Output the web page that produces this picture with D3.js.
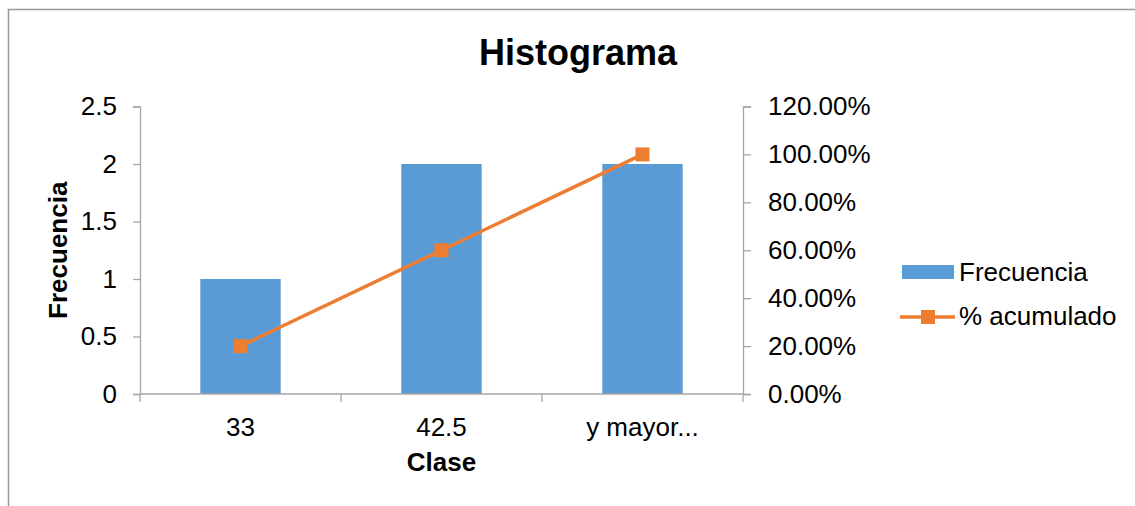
<!DOCTYPE html>
<meta charset="utf-8">
<script src="https://d3js.org/d3.v7.min.js"></script>
<style>
  body { margin: 0; background: #fff; }
  text { font-family: "Liberation Sans", Arial, sans-serif; fill: #000; }
  .axis path, .axis line { stroke: #a6a6a6; stroke-width: 1.3px; }
  .axis text { font-size: 26px; }
</style>
<div id="chart"></div>
<script>
  // data
  var clases = ["33", "42.5", "y mayor..."];
  var frecuencia = [1, 2, 2];
  var acumulado = [0.2, 0.6, 1.0];
  var leftTicks = [0, 0.5, 1, 1.5, 2, 2.5];
  var rightTicks = [0, 0.2, 0.4, 0.6, 0.8, 1.0, 1.2];

  var width = 1135, height = 506;
  var plotLeft = 140, plotRight = 743, plotTop = 106.5, plotBottom = 394;

  var svg = d3.select("#chart").append("svg")
    .attr("width", width)
    .attr("height", height);

  // outer chart border (cut off on the right and bottom)
  svg.append("rect")
    .attr("x", 8.5).attr("y", 9.5)
    .attr("width", 1140).attr("height", 510)
    .attr("fill", "none")
    .attr("stroke", "#999").attr("stroke-width", 1.5);

  var x = d3.scaleBand().domain(clases).range([plotLeft, plotRight]).padding(0);
  var y = d3.scaleLinear().domain([0, 2.5]).range([plotBottom, plotTop]);
  var y2 = d3.scaleLinear().domain([0, 1.2]).range([plotBottom, plotTop]);

  var barW = x.bandwidth() * 0.4;

  svg.selectAll(".bar")
    .data(frecuencia)
    .enter().append("rect")
    .attr("class", "bar")
    .attr("x", function (d, i) { return x(clases[i]) + (x.bandwidth() - barW) / 2; })
    .attr("y", function (d) { return y(d); })
    .attr("width", barW)
    .attr("height", function (d) { return plotBottom - y(d); })
    .attr("fill", "#5B9BD5");

  // left axis
  svg.append("g")
    .attr("class", "axis")
    .attr("transform", "translate(" + plotLeft + ",0)")
    .call(d3.axisLeft(y).tickValues(leftTicks).tickSize(7).tickPadding(16)
      .tickFormat(function (d) { return String(d); }));

  // right axis
  svg.append("g")
    .attr("class", "axis")
    .attr("transform", "translate(" + plotRight + ",0)")
    .call(d3.axisRight(y2).tickValues(rightTicks).tickSize(8).tickPadding(17)
      .tickFormat(d3.format(".2%")));

  // bottom axis: ticks at category boundaries
  var xAxis = svg.append("g")
    .attr("class", "axis")
    .attr("transform", "translate(0," + plotBottom + ")");
  xAxis.append("line")
    .attr("x1", plotLeft).attr("x2", plotRight)
    .attr("y1", 0).attr("y2", 0);
  var bounds = clases.map(function (c) { return x(c); }).concat([plotRight]);
  xAxis.selectAll(".tk")
    .data(bounds)
    .enter().append("line")
    .attr("x1", function (d) { return d; }).attr("x2", function (d) { return d; })
    .attr("y1", 0).attr("y2", 8);
  xAxis.selectAll(".lbl")
    .data(clases)
    .enter().append("text")
    .attr("x", function (d) { return x(d) + x.bandwidth() / 2; })
    .attr("y", 42)
    .attr("text-anchor", "middle")
    .text(function (d) { return d; });

  // cumulative line
  var line = d3.line()
    .x(function (d, i) { return x(clases[i]) + x.bandwidth() / 2; })
    .y(function (d) { return y2(d); });

  svg.append("path")
    .datum(acumulado)
    .attr("d", line)
    .attr("fill", "none")
    .attr("stroke", "#ED7D31")
    .attr("stroke-width", 3.5);

  svg.selectAll(".mk")
    .data(acumulado)
    .enter().append("rect")
    .attr("x", function (d, i) { return x(clases[i]) + x.bandwidth() / 2 - 7; })
    .attr("y", function (d) { return y2(d) - 7; })
    .attr("width", 14).attr("height", 14)
    .attr("fill", "#ED7D31");

  // titles
  svg.append("text")
    .attr("x", 578).attr("y", 65)
    .attr("text-anchor", "middle")
    .style("font-size", "36px").style("font-weight", "bold")
    .text("Histograma");

  svg.append("text")
    .attr("x", (plotLeft + plotRight) / 2).attr("y", 471)
    .attr("text-anchor", "middle")
    .style("font-size", "26px").style("font-weight", "bold")
    .text("Clase");

  svg.append("text")
    .attr("transform", "translate(67," + ((plotTop + plotBottom) / 2) + ") rotate(-90)")
    .attr("text-anchor", "middle")
    .style("font-size", "26px").style("font-weight", "bold")
    .text("Frecuencia");

  // legend
  var lg = svg.append("g");
  lg.append("rect")
    .attr("x", 902).attr("y", 265)
    .attr("width", 52).attr("height", 14)
    .attr("fill", "#5B9BD5");
  lg.append("text")
    .attr("x", 959).attr("y", 281)
    .style("font-size", "26px")
    .text("Frecuencia");
  lg.append("line")
    .attr("x1", 900).attr("x2", 955)
    .attr("y1", 317).attr("y2", 317)
    .attr("stroke", "#ED7D31").attr("stroke-width", 3.5);
  lg.append("rect")
    .attr("x", 921).attr("y", 310)
    .attr("width", 14).attr("height", 14)
    .attr("fill", "#ED7D31");
  lg.append("text")
    .attr("x", 959).attr("y", 325)
    .style("font-size", "26px")
    .text("% acumulado");
</script>
